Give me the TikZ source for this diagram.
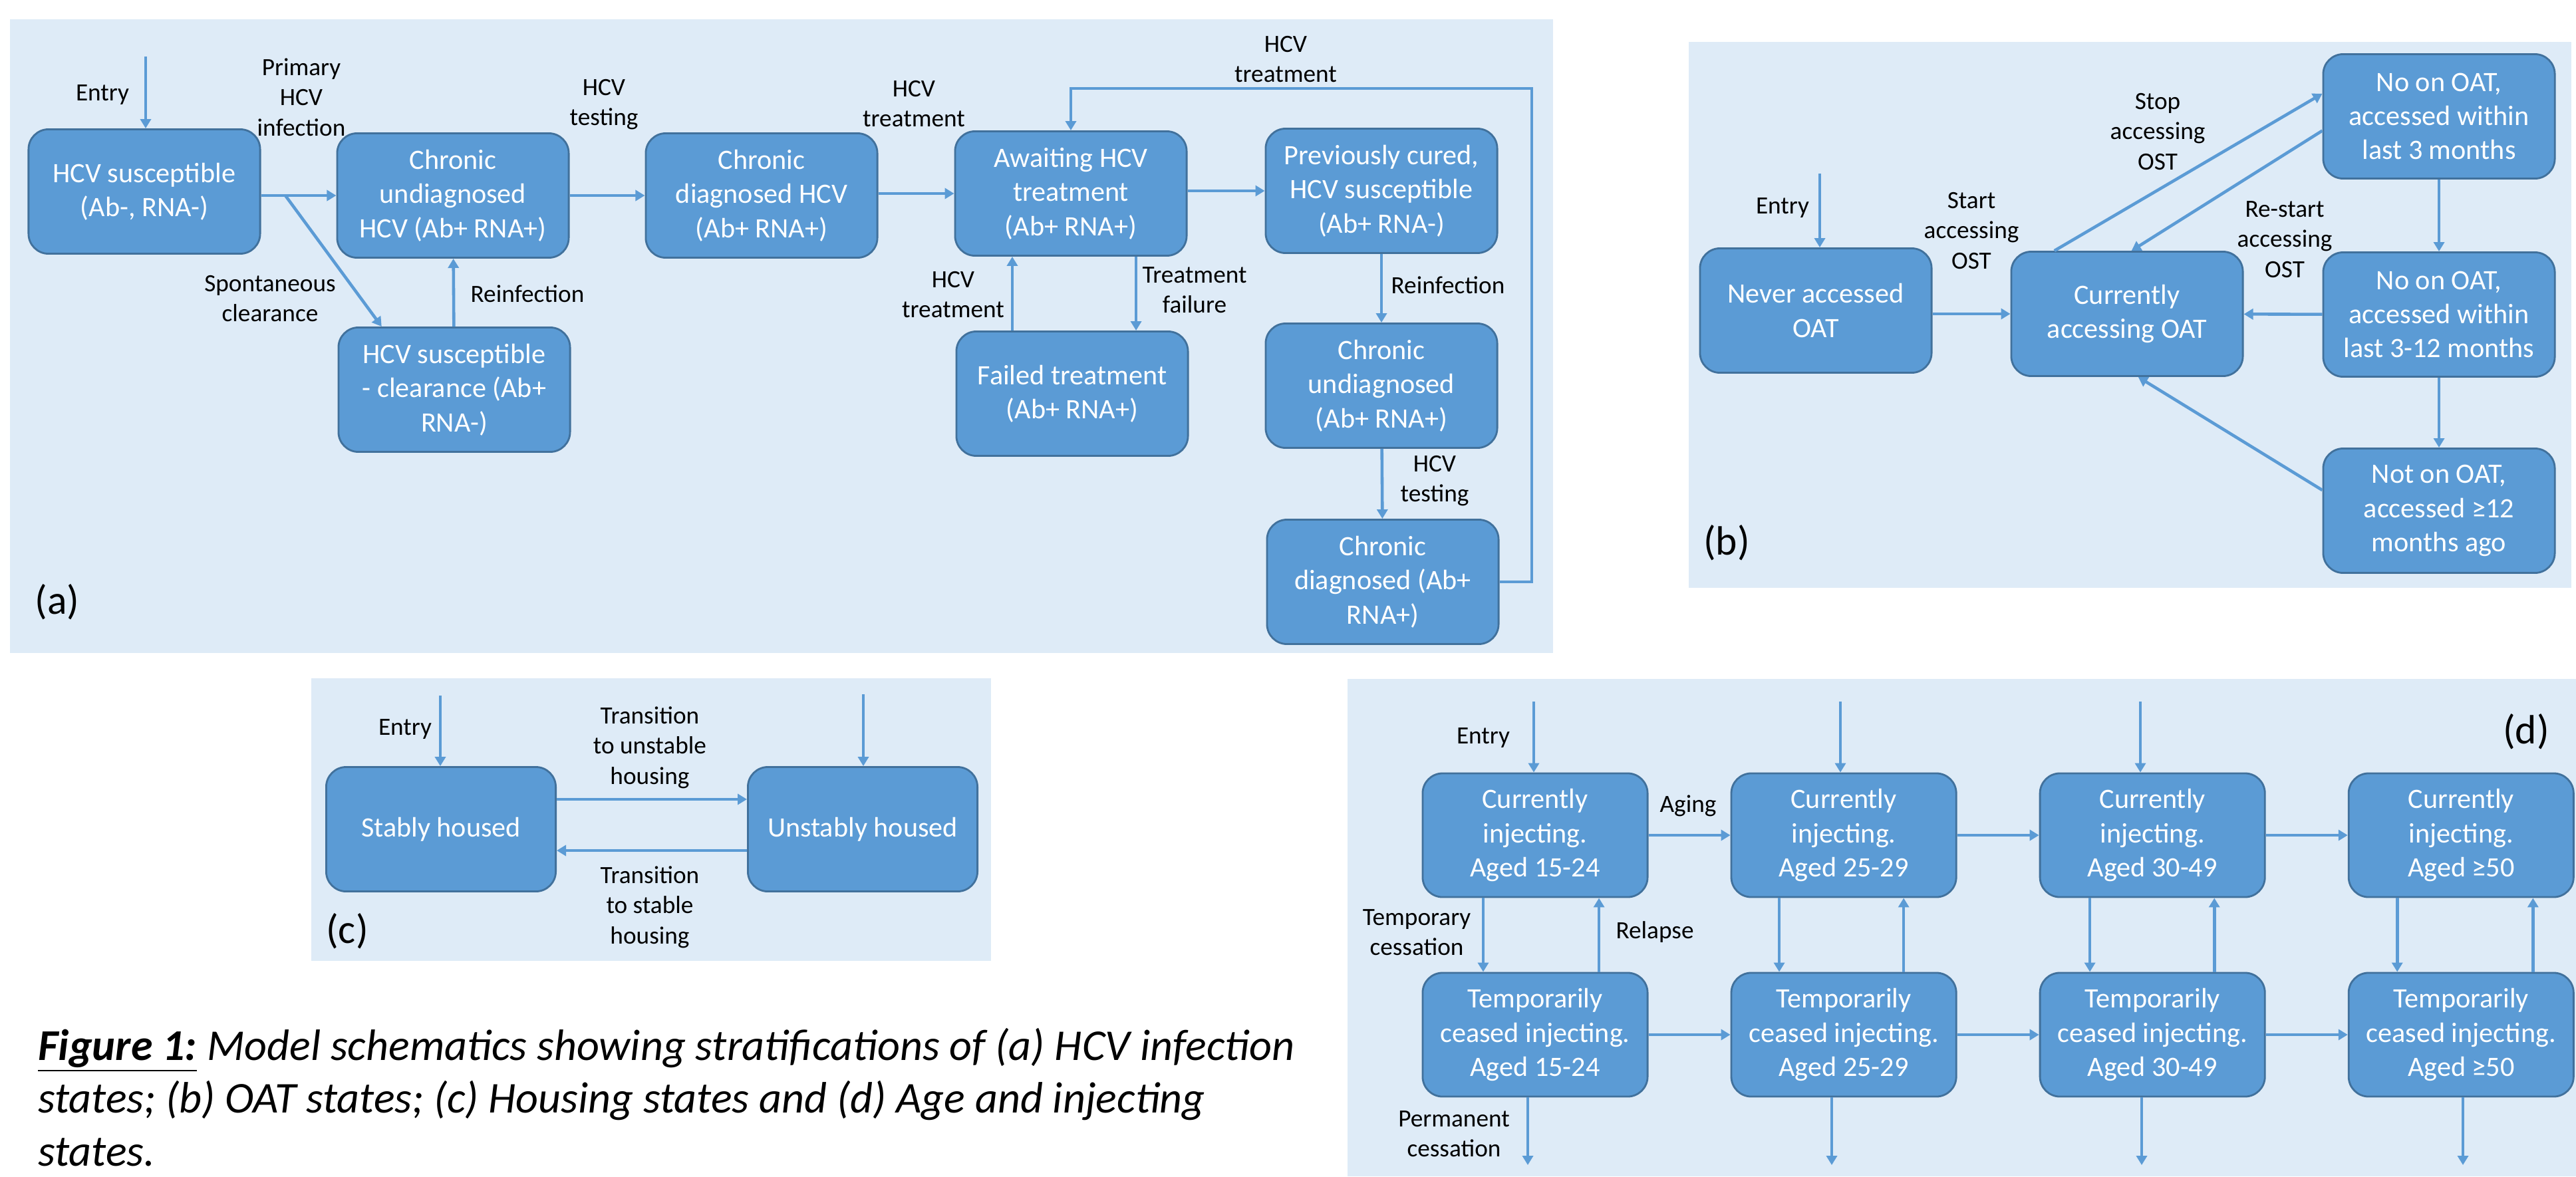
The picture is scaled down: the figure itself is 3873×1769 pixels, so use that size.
\documentclass[tikz,border=0pt]{standalone}
\usepackage{fontspec}
\setmainfont{Carlito}
\usetikzlibrary{arrows.meta, positioning}

\definecolor{panelbg}{HTML}{DEEBF7}
\definecolor{boxfill}{HTML}{5B9BD5}
\definecolor{boxline}{HTML}{41719C}
\definecolor{flow}{HTML}{5B9BD5}

\begin{document}
\begin{tikzpicture}[
    x=0.01cm, y=-0.01cm,
    node distance=1.11cm and 1.23cm,
    every node/.style={font=\fontsize{10.6}{12.9}\selectfont},
    box/.style={rectangle, draw=boxline, fill=boxfill, line width=0.8pt, rounded corners=0.3cm, minimum width=3.48cm, minimum height=1.87cm, align=center, text=white, inner sep=1pt, font=\fontsize{12}{14.6}\selectfont},
    dbox/.style={minimum width=3.38cm, minimum height=1.86cm},
    lbl/.style={align=center},
    tag/.style={font=\fontsize{17.5}{21}\selectfont},
    panel/.style={fill=panelbg},
    arrow/.style={-{Triangle[length=1.4mm, width=1.6mm]}, line width=1.3pt, draw=flow}
  ]

  \useasboundingbox (0,0) rectangle (3873,1769);

  \fill[panel] (15,29) rectangle (2335,982);
  \fill[panel] (2539,63) rectangle (3866,884);
  \fill[panel] (468,1020) rectangle (1490,1445);
  \fill[panel] (2026,1021) rectangle (3873,1769);

  \node[box] (sus) at (217,288) {HCV susceptible\\(Ab-, RNA-)};
  \node[box] (undiag) at (681,294) {Chronic\\undiagnosed\\HCV (Ab+ RNA+)};
  \node[box] (diag) at (1145,294) {Chronic\\diagnosed HCV\\(Ab+ RNA+)};
  \node[box] (clear) at (683,586) {HCV susceptible\\- clearance (Ab+\\RNA-)};
  \node[box] (await) at (1610,291) {Awaiting HCV\\treatment\\(Ab+ RNA+)};
  \node[box] (cured) at (2077,287) {Previously cured,\\HCV susceptible\\(Ab+ RNA-)};
  \node[box] (failed) at (1612,592) {Failed treatment\\(Ab+ RNA+)};
  \node[box] (reundiag) at (2077,580) {Chronic\\undiagnosed\\(Ab+ RNA+)};
  \node[box] (rediag) at (2079,875) {Chronic\\diagnosed (Ab+\\RNA+)};

  \node[lbl] (aentry) at (154,143) {Entry};
  \node[lbl] (ainf) at (453,146) {Primary\\HCV\\infection};
  \node[lbl] (aspont) at (406,449) {Spontaneous\\clearance};
  \node[lbl] (areinf) at (793,442) {Reinfection};
  \node[lbl] (atest) at (908,157) {HCV\\testing};
  \node[lbl] (atreat) at (1374,156) {HCV\\treatment};
  \node[lbl] (aretreat) at (1433,443) {HCV\\treatment};
  \node[lbl] (afail) at (1796,436) {Treatment\\failure};
  \node[lbl] (areinf2) at (2177,429) {Reinfection};
  \node[lbl] (atest2) at (2157,723) {HCV\\testing};
  \node[lbl] (aloop) at (1933,89) {HCV\\treatment};
  \node[tag] (taga) at (86,905) {(a)};

  \coordinate (ain) at (219,85);
  \coordinate (split) at (429,294);
  \coordinate (loop) at (2303,133);

  \draw[arrow] (ain) -- (ain |- sus.north);
  \draw[arrow] (sus.east |- undiag) -- (undiag.west);
  \draw[arrow] (split) -- (clear.139);
  \draw[arrow] (clear) -- (undiag);
  \draw[arrow] (undiag) -- (diag);
  \draw[arrow] (diag.east |- await) -- (await.west);
  \draw[arrow] (await.east |- cured) -- (cured.west);
  \draw[arrow] ([xshift=0.98cm]await.south) -- ([xshift=0.98cm]await.south |- failed.north);
  \draw[arrow] ([xshift=-0.9cm]failed.north) -- ([xshift=-0.9cm]failed.north |- await.south);
  \draw[arrow] (cured) -- (reundiag);
  \draw[arrow] (reundiag) -- (rediag);
  \draw[arrow] (rediag.east) -| (loop) -| (await.north);

  \node[box] (never) at (2730,467) {Never accessed\\OAT};
  \node[box] (oatnow) at (3198,472) {Currently\\accessing OAT};
  \node[box] (off3) at (3667,175) {No on OAT,\\accessed within\\last 3 months};
  \node[box] (off12) at (3667,473) {No on OAT,\\accessed within\\last 3-12 months};
  \node[box] (off12plus) at (3667,768) {Not on OAT,\\accessed ≥12\\months ago};

  \node[lbl] (bentry) at (2680,313) {Entry};
  \node[lbl] (bstart) at (2964,347) {Start\\accessing\\OST};
  \node[lbl] (bstop) at (3244,198) {Stop\\accessing\\OST};
  \node[lbl] (brestart) at (3435,360) {Re-start\\accessing\\OST};
  \node[tag] (tagb) at (2596,816) {(b)};

  \coordinate (bin) at (2736,261);

  \draw[arrow] (bin) -- (bin |- never.north);
  \draw[arrow] (never.east |- oatnow) -- (oatnow.west);
  \draw[arrow] (oatnow.139) -- (off3.169);
  \draw[arrow] (off3.187) -- (oatnow.86);
  \draw[arrow] (off3) -- (off12);
  \draw[arrow] (off12) -- (oatnow);
  \draw[arrow] (off12) -- (off12plus);
  \draw[arrow] (off12plus.170) -- (oatnow.280);

  \node[box, minimum width=3.45cm] (stable) at (663,1247) {Stably housed};
  \node[box, minimum width=3.45cm] (unstable) at (1297,1247) {Unstably housed};

  \node[lbl] (centry) at (609,1097) {Entry};
  \node[lbl] (tounst) at (977,1124) {Transition\\to unstable\\housing};
  \node[lbl] (tost) at (977,1364) {Transition\\to stable\\housing};
  \node[tag] (tagc) at (522,1400) {(c)};

  \coordinate (cin1) at (662,1046);
  \coordinate (cin2) at (1298,1044);

  \draw[arrow] (cin1) -- (cin1 |- stable.north);
  \draw[arrow] (cin2) -- (cin2 |- unstable.north);
  \draw[arrow] ([yshift=0.45cm]stable.east) -- ([yshift=0.45cm]stable.east -| unstable.west);
  \draw[arrow] ([yshift=-0.32cm]unstable.west) -- ([yshift=-0.32cm]unstable.west -| stable.east);

  \node[box, dbox] (cur1) at (2308,1256) {Currently\\injecting.\\Aged 15-24};
  \node[box, dbox, right=of cur1] (cur2) {Currently\\injecting.\\Aged 25-29};
  \node[box, dbox, right=of cur2] (cur3) {Currently\\injecting.\\Aged 30-49};
  \node[box, dbox, right=of cur3] (cur4) {Currently\\injecting.\\Aged ≥50};
  \node[box, dbox, below=of cur1] (ceased1) {Temporarily\\ceased injecting.\\Aged 15-24};
  \node[box, dbox, below=of cur2] (ceased2) {Temporarily\\ceased injecting.\\Aged 25-29};
  \node[box, dbox, below=of cur3] (ceased3) {Temporarily\\ceased injecting.\\Aged 30-49};
  \node[box, dbox, below=of cur4] (ceased4) {Temporarily\\ceased injecting.\\Aged ≥50};

  \node[lbl] (dentry) at (2230,1110) {Entry};
  \node[lbl] (daging) at (2538,1212) {Aging};
  \node[lbl] (dtemp) at (2130,1402) {Temporary\\cessation};
  \node[lbl] (drelapse) at (2488,1402) {Relapse};
  \node[lbl] (dperm) at (2186,1705) {Permanent\\cessation};
  \node[tag] (tagd) at (3798,1100) {(d)};

  \coordinate (din1) at (2306,1055);
  \coordinate (din2) at (2767,1055);
  \coordinate (din3) at (3218,1055);
  \coordinate (dout1) at (2297,1752);
  \coordinate (dout2) at (2754,1752);
  \coordinate (dout3) at (3220,1752);
  \coordinate (dout4) at (3703,1752);

  \draw[arrow] (din1) -- (din1 |- cur1.north);
  \draw[arrow] (din2) -- (din2 |- cur2.north);
  \draw[arrow] (din3) -- (din3 |- cur3.north);
  \draw[arrow] (cur1) -- (cur2);
  \draw[arrow] (cur2) -- (cur3);
  \draw[arrow] (cur3) -- (cur4);
  \draw[arrow] (ceased1) -- (ceased2);
  \draw[arrow] (ceased2) -- (ceased3);
  \draw[arrow] (ceased3) -- (ceased4);
  \draw[arrow] ([xshift=-0.78cm]cur1.south) -- ([xshift=-0.78cm]ceased1.north);
  \draw[arrow] ([xshift=0.96cm]ceased1.north) -- ([xshift=0.96cm]cur1.south);
  \draw[arrow] ([xshift=-0.97cm]cur2.south) -- ([xshift=-0.97cm]ceased2.north);
  \draw[arrow] ([xshift=0.9cm]ceased2.north) -- ([xshift=0.9cm]cur2.south);
  \draw[arrow] ([xshift=-0.94cm]cur3.south) -- ([xshift=-0.94cm]ceased3.north);
  \draw[arrow] ([xshift=0.93cm]ceased3.north) -- ([xshift=0.93cm]cur3.south);
  \draw[arrow] ([xshift=-0.96cm]cur4.south) -- ([xshift=-0.96cm]ceased4.north);
  \draw[arrow] ([xshift=1.08cm]ceased4.north) -- ([xshift=1.08cm]cur4.south);
  \draw[arrow] (dout1 |- ceased1.south) -- (dout1);
  \draw[arrow] (dout2 |- ceased2.south) -- (dout2);
  \draw[arrow] (dout3 |- ceased3.south) -- (dout3);
  \draw[arrow] (dout4 |- ceased4.south) -- (dout4);

  \node[anchor=west, align=left, font=\fontsize{18.8}{22.7}\selectfont\itshape] (caption) at (45,1650) {\underline{\textbf{Figure 1:}} Model schematics showing stratifications of (a) HCV infection\\states; (b) OAT states; (c) Housing states and (d) Age and injecting\\states.};

\end{tikzpicture}
\end{document}
